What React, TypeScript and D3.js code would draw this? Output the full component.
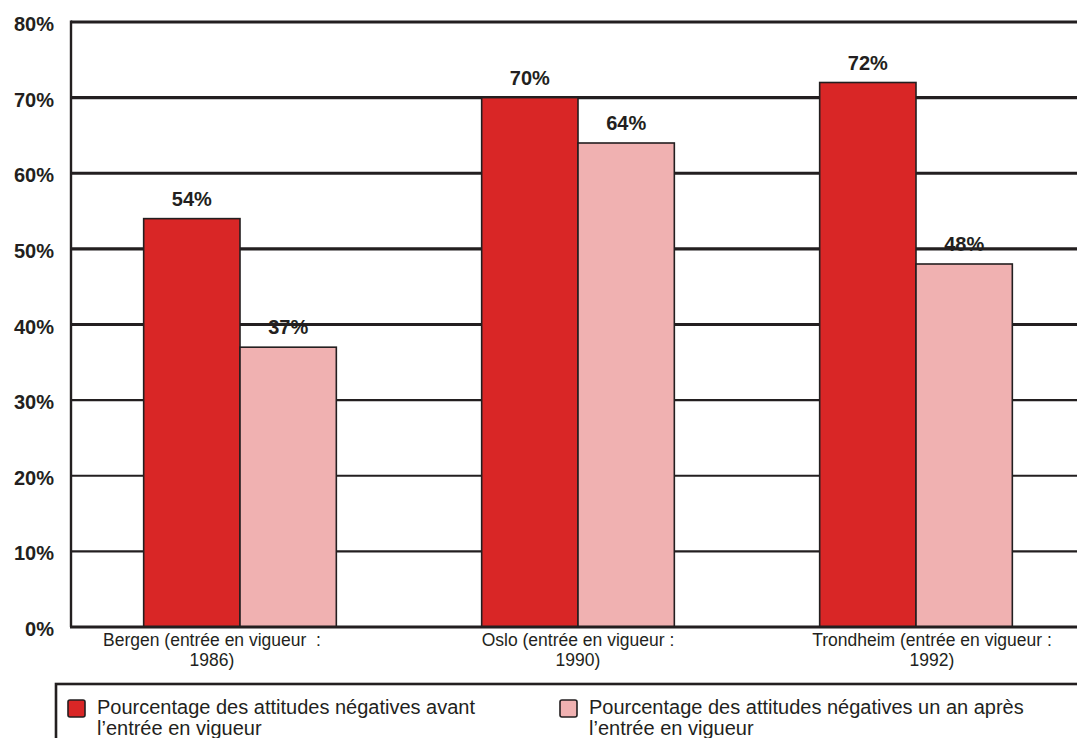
import React from "react";
import * as d3 from "d3";

// Cities and the two surveyed shares of negative attitudes (percent)
const categories = ["Bergen", "Oslo", "Trondheim"];
const labelLine1 = ["Bergen (entrée en vigueur  :", "Oslo (entrée en vigueur :", "Trondheim (entrée en vigueur :"];
const labelLine2 = ["1986)", "1990)", "1992)"];
const seriesNames = [
  ["Pourcentage des attitudes négatives avant", "l’entrée en vigueur"],
  ["Pourcentage des attitudes négatives un an après", "l’entrée en vigueur"],
];
const before = [54, 70, 72];
const after = [37, 64, 48];
const yTicks = [0, 10, 20, 30, 40, 50, 60, 70, 80];

const W = 1077;
const H = 738;
const X0 = 71;
const X1 = 71 + 338 * 3;
const Y0 = 627;
const Y1 = 22;
const COLORS = ["#d92626", "#f0b1b1"];
const INK = "#231f20";
const FONT = "Arial, 'Liberation Sans', Helvetica, sans-serif";
// horizontal nudges for the category captions
const captionShift = [-28, 0, 16];

export default function App() {
  const x = d3
    .scaleBand<string>()
    .domain(categories)
    .range([X0, X1])
    .paddingInner(0.43)
    .paddingOuter(0.215);
  const sub = d3
    .scaleBand<string>()
    .domain(["before", "after"])
    .range([0, x.bandwidth()]);
  const y = d3.scaleLinear().domain([0, 80]).range([Y0, Y1]);

  const series = [
    { key: "before", values: before, color: COLORS[0] },
    { key: "after", values: after, color: COLORS[1] },
  ];

  return (
    <div style={{ position: "fixed", left: 0, top: 0 }}>
      <svg width={W} height={H} style={{ display: "block" }} fontFamily={FONT}>
        <rect x={0} y={0} width={W} height={H} fill="#ffffff" />

        {/* gridlines */}
        {yTicks.filter((t) => t > 0).map((t) => (
          <line
            key={t}
            x1={X0}
            x2={W}
            y1={y(t)}
            y2={y(t)}
            stroke={INK}
            strokeWidth={t <= 30 ? 2.2 : 3.2}
          />
        ))}

        {/* y axis */}
        <line x1={X0} x2={X0} y1={Y1 - 1.5} y2={Y0} stroke={INK} strokeWidth={2.4} />
        {yTicks.map((t) => (
          <text
            key={t}
            x={54}
            y={y(t) + 9}
            textAnchor="end"
            fontSize={20}
            fontWeight="bold"
            fill={INK}
          >
            {`${t}%`}
          </text>
        ))}

        {/* bars */}
        {series.map((s) =>
          categories.map((c, i) => {
            const bx = (x(c) ?? 0) + (sub(s.key) ?? 0);
            const by = y(s.values[i]);
            return (
              <g key={s.key + c}>
                <rect
                  x={bx}
                  y={by}
                  width={sub.bandwidth()}
                  height={Y0 - by}
                  fill={s.color}
                  stroke={INK}
                  strokeWidth={1.6}
                />
                <text
                  x={bx + sub.bandwidth() / 2}
                  y={by - 13}
                  textAnchor="middle"
                  fontSize={20}
                  fontWeight="bold"
                  fill={INK}
                >
                  {`${s.values[i]}%`}
                </text>
              </g>
            );
          })
        )}

        {/* baseline */}
        <line x1={X0 - 1} x2={W} y1={Y0} y2={Y0} stroke={INK} strokeWidth={3.2} />

        {/* category captions */}
        {categories.map((c, i) => {
          const cx = (x(c) ?? 0) + x.bandwidth() / 2 + captionShift[i];
          return (
            <text key={c} textAnchor="middle" fontSize={17.5} fill={INK} style={{ whiteSpace: "pre" }}>
              <tspan x={cx} y={646}>{labelLine1[i]}</tspan>
              <tspan x={cx} y={666}>{labelLine2[i]}</tspan>
            </text>
          );
        })}

        {/* legend */}
        <rect x={56} y={684} width={W} height={100} fill="none" stroke={INK} strokeWidth={2.6} />
        {seriesNames.map((lines, i) => {
          const lx = i === 0 ? 68 : 560;
          return (
            <g key={i}>
              <rect
                x={lx}
                y={700}
                width={17}
                height={17}
                rx={2}
                fill={COLORS[i]}
                stroke={INK}
                strokeWidth={1.6}
              />
              <text fontSize={20} fill={INK}>
                <tspan x={lx + 29} y={714}>{lines[0]}</tspan>
                <tspan x={lx + 29} y={735}>{lines[1]}</tspan>
              </text>
            </g>
          );
        })}
      </svg>
    </div>
  );
}
